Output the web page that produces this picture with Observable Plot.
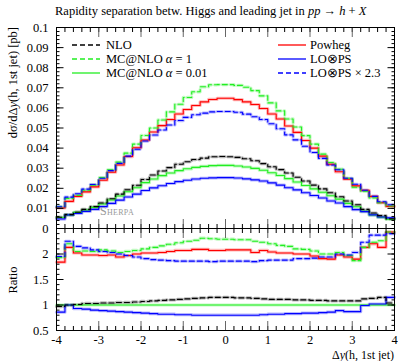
<!DOCTYPE html>
<html><head><meta charset="utf-8">
<script src="https://cdn.jsdelivr.net/npm/d3@7"></script>
<script src="https://cdn.jsdelivr.net/npm/@observablehq/plot@0.6"></script>
<style>
body{margin:0;background:#fff;}
#wrap{position:relative;width:398px;height:361px;font-family:"Liberation Serif",serif;color:#000;overflow:hidden}
#wrap svg.plot{position:absolute;left:0;overflow:visible;font-family:"Liberation Serif",serif !important}
#wrap svg.plot text{font-family:"Liberation Serif",serif !important;font-size:12.5px}
.t{position:absolute;white-space:nowrap;line-height:1}
</style></head><body>
<div id="wrap"></div>
<script>
// ---- data ----
const binLow = [-4,-3.8,-3.6,-3.4,-3.2,-3,-2.8,-2.6,-2.4,-2.2,-2,-1.8,-1.6,-1.4,-1.2,-1,-0.8,-0.6,-0.4,-0.2,0,0.2,0.4,0.6,0.8,1,1.2,1.4,1.6,1.8,2,2.2,2.4,2.6,2.8,3,3.2,3.4,3.6,3.8];
const binEnd = 4;

const nlo = [0.0056,0.0069,0.0081,0.0095,0.0109,0.0127,0.0148,0.0171,0.0193,0.0215,0.0244,0.0266,0.0286,0.0303,0.0320,0.0332,0.0343,0.0350,0.0357,0.0358,
             0.0357,0.0354,0.0347,0.0337,0.0323,0.0307,0.0293,0.0276,0.0255,0.0236,0.0216,0.0197,0.0178,0.0158,0.0137,0.0118,0.0095,0.0077,0.0064,0.0048];
const mcnloA1 = [0.0108,0.0150,0.0165,0.0190,0.0216,0.0253,0.0292,0.0330,0.0375,0.0420,0.0463,0.0500,0.0540,0.0580,0.0618,0.0652,0.0680,0.0705,0.0715,0.0716,
                 0.0716,0.0712,0.0703,0.0686,0.0660,0.0625,0.0585,0.0545,0.0505,0.0462,0.0420,0.0370,0.0328,0.0295,0.0250,0.0205,0.0185,0.0152,0.0128,0.0112];
const mcnloA001 = [0.0055,0.0068,0.0080,0.0092,0.0105,0.0122,0.0142,0.0162,0.0183,0.0203,0.0228,0.0246,0.0263,0.0276,0.0288,0.0297,0.0304,0.0309,0.0313,0.0314,
                   0.0314,0.0311,0.0306,0.0299,0.0290,0.0277,0.0264,0.0248,0.0231,0.0214,0.0197,0.0180,0.0163,0.0146,0.0125,0.0108,0.0085,0.0067,0.0056,0.0046];
const powheg = [0.0102,0.0135,0.0160,0.0182,0.0207,0.0240,0.0280,0.0316,0.0358,0.0402,0.0440,0.0480,0.0512,0.0542,0.0570,0.0592,0.0612,0.0630,0.0642,0.0648,
                0.0648,0.0641,0.0630,0.0617,0.0597,0.0570,0.0545,0.0510,0.0478,0.0438,0.0400,0.0360,0.0320,0.0282,0.0245,0.0212,0.0190,0.0160,0.0128,0.0110];
const loPS = [0.0047,0.0068,0.0075,0.0085,0.0095,0.0109,0.0125,0.0141,0.0157,0.0171,0.0189,0.0202,0.0213,0.0224,0.0233,0.0240,0.0246,0.0250,0.0252,0.0253,
              0.0253,0.0251,0.0247,0.0242,0.0236,0.0227,0.0216,0.0203,0.0192,0.0178,0.0164,0.0152,0.0137,0.0127,0.0109,0.0094,0.0084,0.0068,0.0057,0.0053];
const loPSx23 = [0.0108,0.0156,0.0173,0.0196,0.0219,0.0250,0.0288,0.0324,0.0360,0.0394,0.0435,0.0465,0.0490,0.0515,0.0537,0.0553,0.0566,0.0574,0.0580,0.0582,
                 0.0582,0.0578,0.0569,0.0556,0.0542,0.0521,0.0496,0.0466,0.0441,0.0409,0.0378,0.0349,0.0316,0.0292,0.0250,0.0220,0.0190,0.0160,0.0133,0.0118];

// ratios to MC@NLO alpha = 0.01
const rNlo = [0.97,1.00,1.01,1.03,1.03,1.04,1.04,1.05,1.05,1.06,1.07,1.08,1.09,1.10,1.11,1.12,1.13,1.14,1.15,1.15,
              1.15,1.14,1.14,1.13,1.12,1.11,1.11,1.11,1.10,1.10,1.09,1.09,1.08,1.08,1.08,1.08,1.12,1.13,1.15,1.04];
const rMcnloA1 = [1.93,2.20,2.05,2.06,2.05,2.08,2.06,2.03,2.05,2.07,2.10,2.13,2.16,2.19,2.22,2.25,2.27,2.31,2.30,2.29,
                  2.29,2.28,2.28,2.25,2.23,2.20,2.17,2.15,2.10,2.09,2.06,2.00,2.00,2.03,1.97,1.87,2.13,2.23,2.26,2.43];
const rMcnloA001 = [1,1,1,1,1,1,1,1,1,1,1,1,1,1,1,1,1,1,1,1,1,1,1,1,1,1,1,1,1,1,1,1,1,1,1,1,1,1,1,1];
const rPowheg = [1.84,2.13,2.02,1.98,1.98,1.97,1.98,1.94,1.97,2.00,2.02,2.02,2.03,2.05,2.07,2.07,2.09,2.09,2.07,2.07,
                 2.08,2.08,2.08,2.03,2.07,2.04,2.02,2.02,2.00,2.00,1.96,1.91,1.90,1.98,1.94,1.90,2.13,2.20,2.13,2.43];
const rLoPS = [0.86,1.00,0.93,0.92,0.90,0.89,0.88,0.87,0.86,0.85,0.84,0.83,0.82,0.82,0.81,0.81,0.80,0.80,0.80,0.80,
               0.80,0.80,0.80,0.80,0.81,0.82,0.82,0.83,0.83,0.84,0.84,0.85,0.86,0.89,0.87,0.87,0.99,1.02,1.02,1.15];
const rLoPSx23 = [1.95,2.25,2.15,2.12,2.08,2.05,2.03,2.00,1.97,1.94,1.91,1.89,1.88,1.87,1.86,1.86,1.86,1.86,1.85,1.86,
                  1.86,1.86,1.86,1.85,1.87,1.88,1.88,1.88,1.91,1.91,1.92,1.94,1.94,2.00,1.98,2.03,2.23,2.37,2.37,2.40];

const seriesNames = ["NLO","MC@NLO α = 1","MC@NLO α = 0.01","Powheg","LO⊗PS","LO⊗PS × 2.3"];
const seriesColors = ["#000000","#22ee22","#22ee22","#ff0000","#0000ff","#0000ff"];
const seriesDash = ["5,3","5,3",null,null,null,"5,3"];
const mainValues = [nlo, mcnloA1, mcnloA001, powheg, loPS, loPSx23];
const ratioValues = [rNlo, rMcnloA1, rMcnloA001, rPowheg, rLoPS, rLoPSx23];
const drawOrder = [2,4,0,3,1,5];

// ticks
const xMajor = [-4,-3,-2,-1,0,1,2,3,4];
const xMajorLabels = ["-4","-3","-2","-1","0","1","2","3","4"];
const xMinor = d3.range(-4, 4.0001, 0.2).map(v => +v.toFixed(1));
const mainYMajor = [0,0.01,0.02,0.03,0.04,0.05,0.06,0.07,0.08,0.09,0.1];
const mainYLabels = ["0","0.01","0.02","0.03","0.04","0.05","0.06","0.07","0.08","0.09","0.1"];
const mainYMinor = d3.range(0, 0.1001, 0.002).map(v => +v.toFixed(3));
const ratioYMajor = [0.5,1,1.5,2];
const ratioYLabels = ["0.5","1","1.5","2"];
const ratioYMinor = d3.range(0.5, 2.5001, 0.1).map(v => +v.toFixed(1));

// build step data
function stepRows(vals) {
  const rows = binLow.map((x, i) => ({x, y: vals[i]}));
  rows.push({x: binEnd, y: vals[vals.length - 1]});
  return rows;
}
function seriesMarks(valuesList) {
  const m = [];
  for (const k of drawOrder) {
    const rows = stepRows(valuesList[k]);
    m.push(Plot.line(rows, {x: "x", y: "y", curve: "step-after", stroke: seriesColors[k], strokeOpacity: 0.28, strokeWidth: 3.2, strokeDasharray: seriesDash[k]}));
  }
  for (const k of drawOrder) {
    const rows = stepRows(valuesList[k]);
    m.push(Plot.line(rows, {x: "x", y: "y", curve: "step-after", stroke: seriesColors[k], strokeWidth: 1.1, strokeDasharray: seriesDash[k]}));
  }
  return m;
}
function frameTicks(yMajor, yMinor) {
  const noText = {fill: "none", label: null};
  return [
    Plot.axisY(yMinor, {anchor: "left", tickSize: -3.5, ...noText}),
    Plot.axisY(yMajor, {anchor: "left", tickSize: -7.5, ...noText}),
    Plot.axisY(yMinor, {anchor: "right", tickSize: -3.5, ...noText}),
    Plot.axisY(yMajor, {anchor: "right", tickSize: -7.5, ...noText}),
    Plot.axisX(xMinor, {anchor: "top", tickSize: -4, ...noText}),
    Plot.axisX(xMajor, {anchor: "top", tickSize: -9, stroke: "#666", ...noText}),
    Plot.axisX(xMinor, {anchor: "bottom", tickSize: -4, ...noText}),
    Plot.axisX(xMajor, {anchor: "bottom", tickSize: -9, stroke: "#666", ...noText}),
    Plot.frame({stroke: "#000", strokeWidth: 1})
  ];
}
const baseStyle = {fontFamily: "'Liberation Serif', serif", fontSize: "12.5px", background: "transparent", color: "#000", overflow: "visible"};

const mainPlot = Plot.plot({
  width: 398, height: 228, marginTop: 27, marginBottom: 0, marginLeft: 56, marginRight: 4,
  x: {domain: [-4, 4]}, y: {domain: [0, 0.1]},
  style: baseStyle,
  marks: [
    ...seriesMarks(mainValues),
    ...frameTicks(mainYMajor, mainYMinor),
    Plot.axisY(mainYMajor, {anchor: "left", tickSize: 0, tickPadding: 8, label: null, tickFormat: d => mainYLabels[mainYMajor.indexOf(d)]})
  ]
});
const ratioPlot = Plot.plot({
  width: 398, height: 133, marginTop: 0, marginBottom: 31, marginLeft: 56, marginRight: 4,
  x: {domain: [-4, 4]}, y: {domain: [0.5, 2.5]},
  style: baseStyle,
  marks: [
    ...seriesMarks(ratioValues),
    ...frameTicks(ratioYMajor, ratioYMinor),
    Plot.axisY(ratioYMajor, {anchor: "left", tickSize: 0, tickPadding: 8, label: null, tickFormat: d => ratioYLabels[ratioYMajor.indexOf(d)]}),
    Plot.axisX(xMajor, {anchor: "bottom", tickSize: 0, tickPadding: 5, label: null, tickFormat: d => xMajorLabels[xMajor.indexOf(d)]})
  ]
});
const wrap = document.getElementById("wrap");
mainPlot.classList.add("plot"); mainPlot.style.top = "0px";
ratioPlot.classList.add("plot"); ratioPlot.style.top = "228px";
wrap.appendChild(mainPlot);
wrap.appendChild(ratioPlot);

function addText(html, css) {
  const d = document.createElement("div");
  d.className = "t";
  d.innerHTML = html;
  Object.assign(d.style, css);
  wrap.appendChild(d);
  return d;
}
// title
addText('Rapidity separation betw. Higgs and leading jet in <i>pp</i> → <i>h</i> + <i>X</i>', {left: "55px", top: "5px", fontSize: "12.5px"});
// y labels (rotated)
addText('dσ/dΔ<i>y</i>(h, 1st jet) [pb]', {left: "13px", top: "27px", fontSize: "12.5px", transformOrigin: "0 0", transform: "rotate(-90deg) translate(-100%, -50%)"});
addText('Ratio', {left: "13px", top: "280px", fontSize: "12.5px", transformOrigin: "0 0", transform: "rotate(-90deg) translate(-50%, -50%)"});
// x label
addText('Δ<i>y</i>(h, 1st jet)', {right: "4px", top: "349px", fontSize: "12px"});
// watermark
addText('Sherpa', {left: "100px", top: "205px", fontSize: "12px", fontVariant: "small-caps", color: "#999", letterSpacing: "0.3px"});

// legend
const legendPos = [[72, 45, 106], [72, 59, 106], [72, 73, 106], [278, 45, 310], [278, 59, 310], [278, 73, 310]];
seriesNames.forEach((name, k) => {
  const [lx, ly, tx] = legendPos[k];
  const ns = "http://www.w3.org/2000/svg";
  const s = document.createElementNS(ns, "svg");
  s.setAttribute("width", 30); s.setAttribute("height", 6);
  s.style.position = "absolute"; s.style.left = lx + "px"; s.style.top = (ly - 3) + "px";
  const ln = document.createElementNS(ns, "line");
  ln.setAttribute("x1", 0); ln.setAttribute("x2", 28); ln.setAttribute("y1", 3); ln.setAttribute("y2", 3);
  ln.setAttribute("stroke", seriesColors[k]); ln.setAttribute("stroke-width", 1.3);
  if (seriesDash[k]) ln.setAttribute("stroke-dasharray", seriesDash[k]);
  s.appendChild(ln);
  wrap.appendChild(s);
  const html = name.replace("α", "<i>α</i>");
  addText(html, {left: tx + "px", top: (ly - 6.5) + "px", fontSize: "12.5px"});
});
</script>
</body></html>
